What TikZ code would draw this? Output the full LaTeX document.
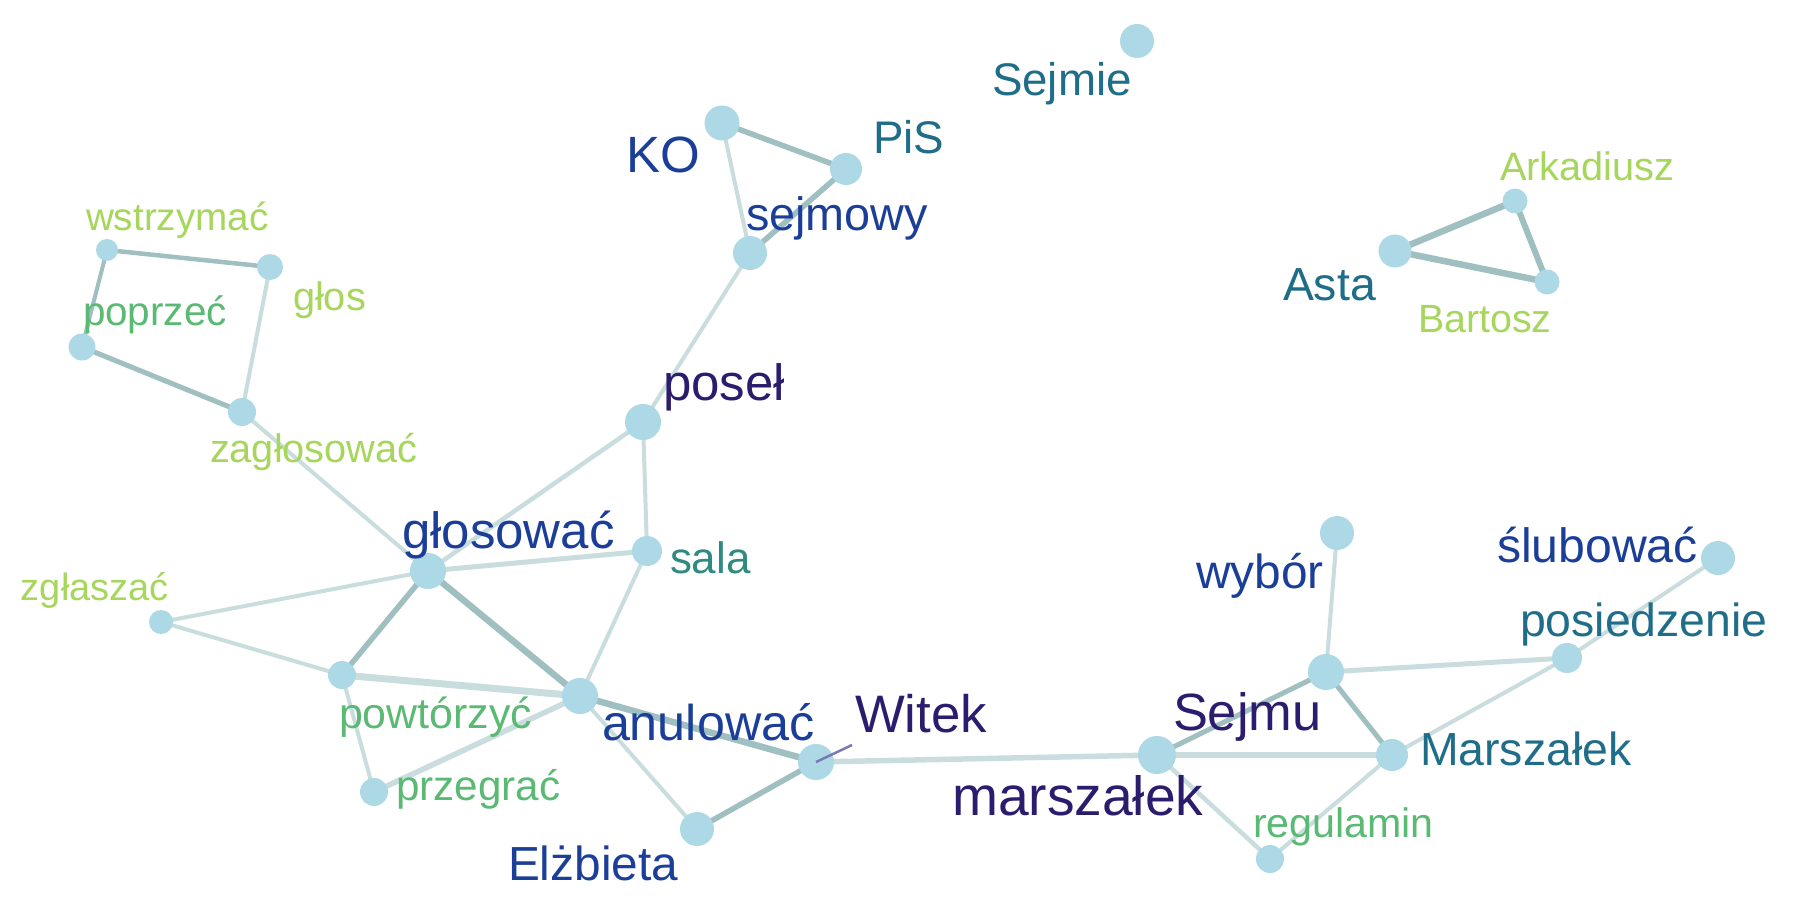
\documentclass[tikz,border=0pt]{standalone}
\usepackage{fontspec}
\setmainfont{Liberation Sans}
\definecolor{vtxfill}{HTML}{ADD8E6}
\definecolor{edgedark}{HTML}{A0BFC0}
\definecolor{edgelight}{HTML}{CADDDE}
\definecolor{cpurple}{HTML}{2C1C6D}
\definecolor{cblue}{HTML}{1B3F98}
\definecolor{cteal}{HTML}{1F6D89}
\definecolor{ctealgreen}{HTML}{2F8A80}
\definecolor{cgreen}{HTML}{5AB972}
\definecolor{cyellow}{HTML}{A6D65B}
\definecolor{cpointer}{HTML}{7A79B3}
\pgfdeclarelayer{bg}
\pgfdeclarelayer{edges}
\pgfsetlayers{bg,edges,main}
\newcommand{\fsz}[1]{\fontsize{#1}{#1}\selectfont}
\tikzset{
  vtx/.style={circle, fill=vtxfill, draw=none, inner sep=0pt, minimum size=#1*0.01cm},
  lbl/.style={anchor=base west, inner sep=0pt, outer sep=0pt},
  dk/.style={draw=edgedark, line width=#1*0.2845pt},
  lt/.style={draw=edgelight, line width=#1*0.2845pt},
}
\begin{document}
\begin{tikzpicture}[x=0.01cm, y=-0.01cm]
\begin{pgfonlayer}{bg}
\fill[white] (0,0) rectangle (1800,900);
\end{pgfonlayer}
\useasboundingbox (0,0) rectangle (1800,900);
% vertices
\node[vtx=35] (KO) at (722,123) {};
\node[vtx=32] (PiS) at (846,169) {};
\node[vtx=34] (sejmowy) at (750,253) {};
\node[vtx=34] (Sejmie) at (1137,41) {};
\node[vtx=22] (wstrzymac) at (107,250) {};
\node[vtx=26] (glos) at (270,267) {};
\node[vtx=27] (poprzec) at (82,347) {};
\node[vtx=28] (zaglosowac) at (242,412) {};
\node[vtx=36] (posel) at (643,422) {};
\node[vtx=25] (Arkadiusz) at (1515,201) {};
\node[vtx=33] (Asta) at (1395,251) {};
\node[vtx=25] (Bartosz) at (1547,282) {};
\node[vtx=36] (glosowac) at (428,571) {};
\node[vtx=30] (sala) at (647,551) {};
\node[vtx=24] (zglaszac) at (161,622) {};
\node[vtx=28] (powtorzyc) at (342,675) {};
\node[vtx=36] (anulowac) at (580,696) {};
\node[vtx=36] (Witek) at (816,762) {};
\node[vtx=28] (przegrac) at (374,792) {};
\node[vtx=34] (Elzbieta) at (697,829) {};
\node[vtx=34] (wybor) at (1337,533) {};
\node[vtx=34] (slubowac) at (1718,558) {};
\node[vtx=30] (posiedzenie) at (1567,658) {};
\node[vtx=36] (Sejmu) at (1326,672) {};
\node[vtx=38] (marszalekL) at (1157,755) {};
\node[vtx=32] (MarszalekU) at (1392,755) {};
\node[vtx=28] (regulamin) at (1270,859) {};
% edges
\begin{pgfonlayer}{edges}
\draw[dk=5.5] (KO.center) -- (PiS.center);
\draw[lt=4] (KO.center) -- (sejmowy.center);
\draw[dk=5.5] (PiS.center) -- (sejmowy.center);
\draw[lt=4] (sejmowy.center) -- (posel.center);
\draw[lt=4.5] (posel.center) -- (glosowac.center);
\draw[lt=4] (posel.center) -- (sala.center);
\draw[dk=4.5] (wstrzymac.center) -- (glos.center);
\draw[dk=4] (wstrzymac.center) -- (poprzec.center);
\draw[lt=4] (glos.center) -- (zaglosowac.center);
\draw[dk=5] (poprzec.center) -- (zaglosowac.center);
\draw[lt=4] (zaglosowac.center) -- (glosowac.center);
\draw[lt=5] (glosowac.center) -- (sala.center);
\draw[lt=4] (glosowac.center) -- (zglaszac.center);
\draw[dk=5.5] (glosowac.center) -- (powtorzyc.center);
\draw[dk=6.5] (glosowac.center) -- (anulowac.center);
\draw[lt=4] (zglaszac.center) -- (powtorzyc.center);
\draw[lt=7] (powtorzyc.center) -- (anulowac.center);
\draw[lt=4] (powtorzyc.center) -- (przegrac.center);
\draw[lt=5.5] (przegrac.center) -- (anulowac.center);
\draw[lt=4] (sala.center) -- (anulowac.center);
\draw[dk=6.5] (anulowac.center) -- (Witek.center);
\draw[lt=4] (anulowac.center) -- (Elzbieta.center);
\draw[dk=5.5] (Elzbieta.center) -- (Witek.center);
\draw[lt=5.5] (Witek.center) -- (marszalekL.center);
\draw[dk=5] (marszalekL.center) -- (Sejmu.center);
\draw[lt=5.5] (marszalekL.center) -- (MarszalekU.center);
\draw[lt=4.5] (marszalekL.center) -- (regulamin.center);
\draw[lt=4] (regulamin.center) -- (MarszalekU.center);
\draw[dk=5] (Sejmu.center) -- (MarszalekU.center);
\draw[lt=4] (Sejmu.center) -- (wybor.center);
\draw[lt=5] (Sejmu.center) -- (posiedzenie.center);
\draw[lt=4] (MarszalekU.center) -- (posiedzenie.center);
\draw[lt=4] (posiedzenie.center) -- (slubowac.center);
\draw[dk=6.5] (Asta.center) -- (Arkadiusz.center);
\draw[dk=6.5] (Asta.center) -- (Bartosz.center);
\draw[dk=6] (Arkadiusz.center) -- (Bartosz.center);
\end{pgfonlayer}
% Witek pointer
\coordinate (witekptr) at (852,745);
\draw[cpointer, line width=0.7pt] (Witek.center) -- (witekptr);
% labels
\node[lbl, text=cblue, font=\fsz{14.5}] (KO-l) at (626,172) {KO};
\node[lbl, text=cteal, font=\fsz{13}] (PiS-l) at (873,153) {PiS};
\node[lbl, text=cblue, font=\fsz{13.3}] (sejmowy-l) at (746,230) {sejmowy};
\node[lbl, text=cteal, font=\fsz{13}] (Sejmie-l) at (992,95) {Sejmie};
\node[lbl, text=cyellow, font=\fsz{11}] (wstrzymac-l) at (86,230) {wstrzymać};
\node[lbl, text=cyellow, font=\fsz{11.3}] (glos-l) at (293,310) {głos};
\node[lbl, text=cgreen, font=\fsz{11.5}] (poprzec-l) at (83,325) {poprzeć};
\node[lbl, text=cyellow, font=\fsz{11.3}] (zaglosowac-l) at (210,462) {zagłosować};
\node[lbl, text=cpurple, font=\fsz{14.5}] (posel-l) at (663,400) {poseł};
\node[lbl, text=cyellow, font=\fsz{11.3}] (Arkadiusz-l) at (1500,180) {Arkadiusz};
\node[lbl, text=cteal, font=\fsz{13.2}] (Asta-l) at (1283,300) {Asta};
\node[lbl, text=cyellow, font=\fsz{11.2}] (Bartosz-l) at (1418,332) {Bartosz};
\node[lbl, text=cblue, font=\fsz{14.5}] (glosowac-l) at (402,548) {głosować};
\node[lbl, text=ctealgreen, font=\fsz{12.5}] (sala-l) at (670,573) {sala};
\node[lbl, text=cyellow, font=\fsz{10.8}] (zglaszac-l) at (21,600) {zgłaszać};
\node[lbl, text=cgreen, font=\fsz{12.2}] (powtorzyc-l) at (339,728) {powtórzyć};
\node[lbl, text=cblue, font=\fsz{14.3}] (anulowac-l) at (602,740) {anulować};
\node[lbl, text=cpurple, font=\fsz{15}] (Witek-l) at (855,732) {Witek};
\node[lbl, text=cgreen, font=\fsz{12}] (przegrac-l) at (396,800) {przegrać};
\node[lbl, text=cblue, font=\fsz{13.6}] (Elzbieta-l) at (508,880) {Elżbieta};
\node[lbl, text=cblue, font=\fsz{13.6}] (wybor-l) at (1196,588) {wybór};
\node[lbl, text=cblue, font=\fsz{13.7}] (slubowac-l) at (1497,562) {ślubować};
\node[lbl, text=cteal, font=\fsz{13.2}] (posiedzenie-l) at (1520,636) {posiedzenie};
\node[lbl, text=cpurple, font=\fsz{14.9}] (Sejmu-l) at (1173,730) {Sejmu};
\node[lbl, text=cpurple, font=\fsz{15.7}] (marszalekL-l) at (952,815) {marszałek};
\node[lbl, text=cteal, font=\fsz{13.2}] (MarszalekU-l) at (1420,765) {Marszałek};
\node[lbl, text=cgreen, font=\fsz{11.7}] (regulamin-l) at (1253,837) {regulamin};
\end{tikzpicture}
\end{document}
